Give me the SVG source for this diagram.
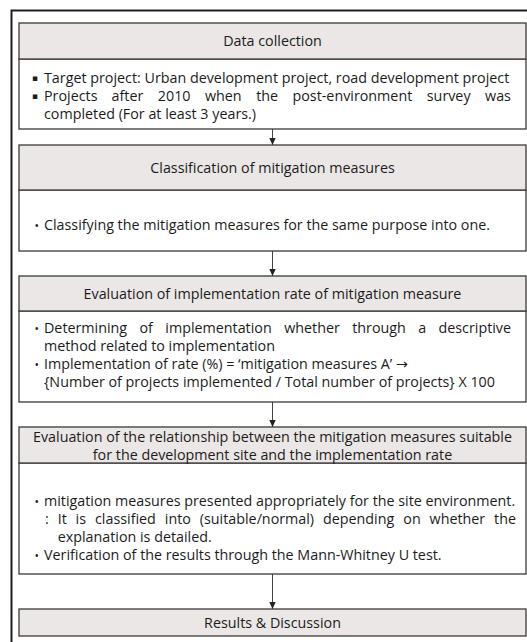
<svg xmlns="http://www.w3.org/2000/svg" width="527" height="642" viewBox="0 0 527 642">
  <defs>
    <marker id="arrowhead" markerWidth="8" markerHeight="8" refX="7" refY="4" orient="auto" markerUnits="userSpaceOnUse">
      <path d="M0,0.8 L7,4 L0,7.2 Z" fill="#222"/>
    </marker>
    <style>
      .frame { fill: none; stroke: #1e1e1e; stroke-width: 2; }
      .head { fill: #ebe7e6; stroke: #3a3a3a; stroke-width: 1.3; }
      .body { fill: #ffffff; stroke: #3a3a3a; stroke-width: 1.3; }
      .link { fill: none; stroke: #444; stroke-width: 1; marker-end: url(#arrowhead); }
      text { font-family: "Open Sans", "Noto Sans", "DejaVu Sans", sans-serif; font-size: 14.3px; fill: #1c1c1c; }
      .c { text-anchor: middle; }
      .sq { font-family: "DejaVu Sans", sans-serif; font-size: 9px; }
      .dot { font-size: 12px; }
    </style>
  </defs>

  <rect width="527" height="642" fill="#ffffff"/>
  <!-- outer frame, running past the right and bottom edges -->
  <rect class="frame" x="11.5" y="10.5" width="540" height="660"/>

  <g id="connectors">
    <line class="link" x1="272.5" y1="129" x2="272.5" y2="145"/>
    <line class="link" x1="272.5" y1="251" x2="272.5" y2="276"/>
    <line class="link" x1="272.5" y1="402" x2="272.5" y2="427"/>
    <line class="link" x1="272.5" y1="574" x2="272.5" y2="609"/>
  </g>

  <g id="data-collection">
    <rect class="body" x="19" y="59" width="507" height="70"/>
    <rect class="head" x="19" y="23" width="507" height="36"/>
    <text class="c" x="272.5" y="46">Data collection</text>
    <text class="sq" x="32" y="81">▪</text>
    <text x="44" y="83">Target project: Urban development project, road development project</text>
    <text class="sq" x="32" y="99">▪</text>
    <text y="101"><tspan x="44">Projects</tspan><tspan x="111.6">after</tspan><tspan x="157.8">2010</tspan><tspan x="205">when</tspan><tspan x="256.2">the</tspan><tspan x="292.5">post-environment</tspan><tspan x="426.8">survey</tspan><tspan x="485.1">was</tspan></text>
    <text x="44" y="119">completed (For at least 3 years.)</text>
  </g>

  <g id="classification">
    <rect class="body" x="19" y="190" width="507" height="61"/>
    <rect class="head" x="19" y="145" width="507" height="45"/>
    <text class="c" x="272.5" y="172.5">Classification of mitigation measures</text>
    <text class="dot" x="34.5" y="229.5">•</text>
    <text x="44" y="230">Classifying the mitigation measures for the same purpose into one.</text>
  </g>

  <g id="implementation-rate">
    <rect class="body" x="19" y="311" width="507" height="91"/>
    <rect class="head" x="19" y="276" width="507" height="35"/>
    <text class="c" x="272.5" y="298.5">Evaluation of implementation rate of mitigation measure</text>
    <text class="dot" x="34.5" y="332.5">•</text>
    <text y="333"><tspan x="44">Determining</tspan><tspan x="139.5">of</tspan><tspan x="165.3">implementation</tspan><tspan x="284.2">whether</tspan><tspan x="352.2">through</tspan><tspan x="418.2">a</tspan><tspan x="438.5">descriptive</tspan></text>
    <text x="44" y="351">method related to implementation</text>
    <text class="dot" x="34.5" y="368.5">•</text>
    <text x="44" y="369">Implementation of rate (%) = ‘mitigation measures A’ →</text>
    <text x="44" y="387">{Number of projects implemented / Total number of projects} X 100</text>
  </g>

  <g id="suitability">
    <rect class="body" x="19" y="463" width="507" height="111"/>
    <rect class="head" x="19" y="427" width="507" height="36"/>
    <text class="c" x="272.5" y="442">Evaluation of the relationship between the mitigation measures suitable</text>
    <text class="c" x="272.5" y="460">for the development site and the implementation rate</text>
    <text class="dot" x="34.5" y="505.5">•</text>
    <text x="44" y="506">mitigation measures presented appropriately for the site environment.</text>
    <text y="524"><tspan x="45">:</tspan><tspan x="57.7">It</tspan><tspan x="75.6">is</tspan><tspan x="95">classified</tspan><tspan x="164.8">into</tspan><tspan x="199.8">(suitable/normal)</tspan><tspan x="323">depending</tspan><tspan x="403.3">on</tspan><tspan x="429.6">whether</tspan><tspan x="494.1">the</tspan></text>
    <text x="57.7" y="542">explanation is detailed.</text>
    <text class="dot" x="34.5" y="559.5">•</text>
    <text x="44" y="560">Verification of the results through the Mann-Whitney U test.</text>
  </g>

  <g id="results">
    <rect class="head" x="19" y="609" width="507" height="27"/>
    <text class="c" x="272.5" y="627.5">Results &amp; Discussion</text>
  </g>
</svg>
